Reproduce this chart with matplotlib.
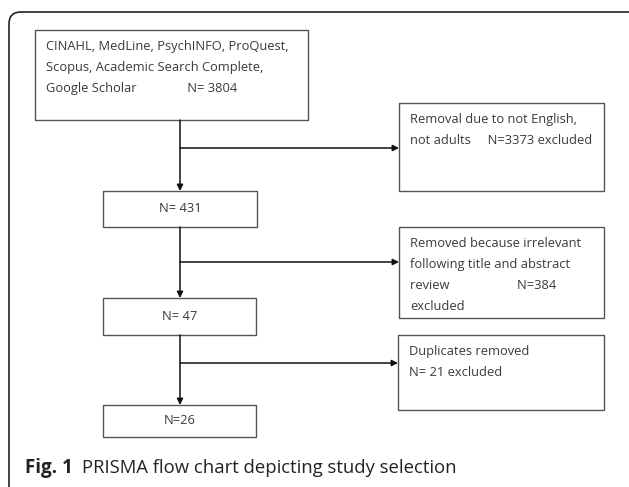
import matplotlib.pyplot as plt
from matplotlib.patches import Rectangle, FancyBboxPatch

# flow chart content
main_labels = ['CINAHL, MedLine, PsychINFO, ProQuest,\nScopus, Academic Search Complete,\nGoogle Scholar               N= 3804',
               'N= 431', 'N= 47', 'N=26']
excl_labels = ['Removal due to not English,\nnot adults     N=3373 excluded',
               'Removed because irrelevant\nfollowing title and abstract\nreview                    N=384\nexcluded',
               'Duplicates removed\nN= 21 excluded']

# box geometry in pixels (x0, y0, x1, y1)
main_boxes = [(35, 30, 308, 120), (103, 191, 257, 227), (103, 298, 256, 335), (103, 405, 256, 437)]
excl_boxes = [(399, 103, 604, 191), (399, 227, 604, 318), (398, 335, 604, 410)]
branch_y = [148, 262, 363]
spine_x = 180

plt.rcParams['font.family'] = ['Open Sans', 'DejaVu Sans']
fig = plt.figure(figsize=(6.29, 4.87), dpi=100)
ax = fig.add_axes([0, 0, 1, 1])
ax.set_xlim(0, 629)
ax.set_ylim(487, 0)
ax.axis('off')

# outer frame (only top and left visible)
frame = FancyBboxPatch((9, 12), 640, 520, boxstyle='round,pad=0,rounding_size=12',
                       fill=False, edgecolor='#222222', linewidth=1.2, clip_on=True)
ax.add_patch(frame)

edge = '#555555'
txt_col = '#3a3a3a'
fs = 9.3

def box(b, label, center=False):
    x0, y0, x1, y1 = b
    ax.add_patch(Rectangle((x0, y0), x1 - x0, y1 - y0, fill=False, edgecolor=edge, linewidth=1.0))
    if center:
        ax.text((x0 + x1) / 2, (y0 + y1) / 2, label, ha='center', va='center', fontsize=fs, color=txt_col)
    else:
        ax.text(x0 + 11, y0 + 10, label, ha='left', va='top', fontsize=fs, color=txt_col, linespacing=1.8)

box(main_boxes[0], main_labels[0])
for b, lab in zip(main_boxes[1:], main_labels[1:]):
    box(b, lab, center=True)
for b, lab in zip(excl_boxes, excl_labels):
    box(b, lab)

arrow = dict(arrowstyle='-|>', color='#111111', lw=1.1, mutation_scale=9, shrinkA=0, shrinkB=0)
# vertical arrows between main boxes
for i in range(3):
    ax.annotate('', xy=(spine_x, main_boxes[i + 1][1]), xytext=(spine_x, main_boxes[i][3]), arrowprops=arrow)
# horizontal arrows to exclusion boxes
for y, b in zip(branch_y, excl_boxes):
    ax.annotate('', xy=(b[0], y), xytext=(spine_x, y), arrowprops=arrow)

ax.text(25, 468, 'Fig. 1', fontsize=13.5, fontweight='bold', color='#222222', va='center', ha='left')
ax.text(82, 468, 'PRISMA flow chart depicting study selection', fontsize=13.3, color='#222222', va='center', ha='left')

fig.savefig('out.png', dpi=100)
